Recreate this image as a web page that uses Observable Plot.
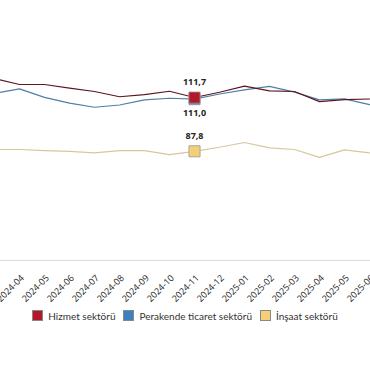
<!DOCTYPE html>
<html>
<head>
<meta charset="utf-8">
<script src="https://cdn.jsdelivr.net/npm/d3@7"></script>
<script src="https://cdn.jsdelivr.net/npm/@observablehq/plot@0.6"></script>
<style>
  html, body { margin: 0; padding: 0; background: #fff; }
  #wrap { width: 370px; height: 380px; overflow: hidden; }
  .legend { display: flex; justify-content: center; align-items: center; gap: 8px;
    font-family: "Lato", sans-serif; font-size: 10px; color: #333; margin-top: 6px; }
  .legend span.sw { display: inline-block; width: 11px; height: 11px; margin-right: 5px; vertical-align: -1px; box-sizing: border-box; border: 1px solid #888; }
</style>
</head>
<body>
<div id="wrap"></div>
<script>
const months = ["2024-03","2024-04","2024-05","2024-06","2024-07","2024-08","2024-09","2024-10","2024-11","2024-12","2025-01","2025-02","2025-03","2025-04","2025-05","2025-06"];
const tickLabels = ["2024-04","2024-05","2024-06","2024-07","2024-08","2024-09","2024-10","2024-11","2024-12","2025-01","2025-02","2025-03","2025-04","2025-05","2025-06"];
const seriesNames = ["Hizmet sektörü", "Perakende ticaret sektörü", "İnşaat sektörü"];
const hizmet    = [120.2,117.5,117.5,115.9,114.4,112.1,113.0,114.5,111.7,114.1,116.8,114.7,114.4,109.9,110.8,111.1];
const perakende = [113.6,115.6,111.8,109.2,107.4,108.4,110.7,111.4,111.0,113.3,115.1,116.7,114.1,110.7,111.1,108.6];
const insaat    = [88.6,88.6,88.1,87.8,87.1,88.1,88.1,86.3,87.8,89.6,91.7,89.3,88.6,85.1,88.4,87.1];
const highlightMonth = "2024-11";
const yMin = 39.2, yMax = 154.9;

const lineColors = ["#5e1520", "#4f7fa6", "#d6c79c"];
const markColors = ["#b3182a", "#3c80c0", "#f4cf75"];

const rows = [];
[hizmet, perakende, insaat].forEach((vals, si) => {
  vals.forEach((v, i) => rows.push({series: seriesNames[si], month: months[i], value: v, si}));
});
const hl = rows.filter(d => d.month === highlightMonth);
const fmt = v => v.toFixed(1).replace(".", ",");

const chart = Plot.plot({
  width: 370,
  height: 304,
  marginTop: 0,
  marginBottom: 44,
  marginLeft: 0,
  marginRight: 0,
  style: {overflow: "hidden", fontFamily: "Open Sans, sans-serif", fontSize: "9px", color: "#222"},
  x: {type: "point", domain: months, range: [-6, 369], padding: 0, axis: null},
  y: {domain: [yMin, yMax], axis: null},
  marks: [
    Plot.ruleY([yMin], {stroke: "#dcdcdc"}),
    Plot.text(tickLabels, {x: d => d, frameAnchor: "bottom", rotate: -45, textAnchor: "end", lineAnchor: "middle", dx: 3, dy: 16, fontSize: 9, fill: "#222"}),
    Plot.line(rows.filter(d => d.si === 2), {x: "month", y: "value", stroke: lineColors[2], strokeWidth: 1.2}),
    Plot.line(rows.filter(d => d.si === 1), {x: "month", y: "value", stroke: lineColors[1], strokeWidth: 1.2}),
    Plot.line(rows.filter(d => d.si === 0), {x: "month", y: "value", stroke: lineColors[0], strokeWidth: 1.1}),
    Plot.dot([hl[2], hl[1], hl[0]], {x: "month", y: "value", symbol: "square", r: 6.3, fill: d => markColors[d.si], stroke: "#999", strokeWidth: 0.8}),
    Plot.text([hl[0]], {x: "month", y: "value", text: d => fmt(d.value), dy: -15, fontWeight: "bold", fontSize: 9, fill: "#222"}),
    Plot.text([hl[1]], {x: "month", y: "value", text: d => fmt(d.value), dy: 14, fontWeight: "bold", fontSize: 9, fill: "#222"}),
    Plot.text([hl[2]], {x: "month", y: "value", text: d => fmt(d.value), dy: -15, fontWeight: "bold", fontSize: 9, fill: "#222"})
  ]
});

const wrap = document.getElementById("wrap");
wrap.appendChild(chart);
const legend = document.createElement("div");
legend.className = "legend";
seriesNames.forEach((n, i) => {
  const item = document.createElement("div");
  const sw = document.createElement("span");
  sw.className = "sw";
  sw.style.background = markColors[i];
  item.appendChild(sw);
  item.appendChild(document.createTextNode(n));
  legend.appendChild(item);
});
wrap.appendChild(legend);
</script>
</body>
</html>
